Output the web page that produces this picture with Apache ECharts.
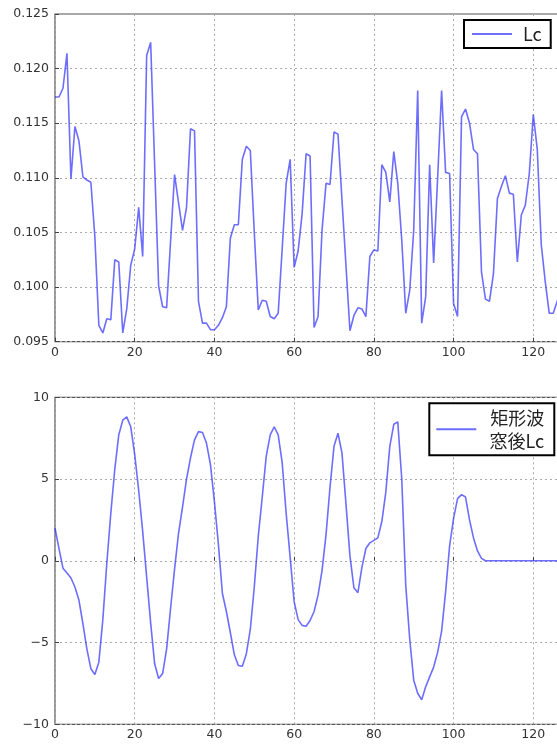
<!DOCTYPE html>
<html>
<head>
<meta charset="utf-8">
<script src="https://cdn.jsdelivr.net/npm/echarts@6/dist/echarts.min.js"></script>
<style>
html,body{margin:0;padding:0;background:#fff;}
#chart{width:557px;height:744px;}
</style>
</head>
<body>
<div id="chart"></div>
<script>
// Top panel: Lc
const lcValues = [
0.1174,0.1174,0.1182,0.1214,0.1099,0.1147,0.1134,0.1101,0.1098,0.1096,
0.1046,0.0965,0.0958,0.0971,0.0970,0.1025,0.1023,0.0958,0.0980,0.1020,
0.1035,0.1073,0.1028,0.1212,0.1224,0.1112,0.1001,0.0982,0.0981,0.1042,
0.1103,0.1077,0.1052,0.1073,0.1145,0.1143,0.0987,0.0967,0.0967,0.0961,
0.0961,0.0965,0.0972,0.0982,0.1045,0.1057,0.1057,0.1117,0.1129,0.1125,
0.1050,0.0979,0.0988,0.0987,0.0973,0.0971,0.0976,0.1035,0.1095,0.1117,
0.1018,0.1033,0.1067,0.1122,0.1120,0.0963,0.0973,0.1052,0.1095,0.1094,
0.1142,0.1140,0.1080,0.1020,0.0960,0.0974,0.0981,0.0980,0.0973,0.1028,
0.1034,0.1033,0.1112,0.1105,0.1078,0.1124,0.1095,0.1043,0.0976,0.0997,
0.1052,0.1180,0.0967,0.0991,0.1112,0.1022,0.1100,0.1180,0.1105,0.1104,
0.0985,0.0973,0.1156,0.1163,0.1150,0.1126,0.1122,0.1014,0.0989,0.0987,
0.1012,0.1081,0.1092,0.1102,0.1086,0.1085,0.1023,0.1066,0.1075,0.1104,
0.1158,0.1126,0.1039,0.1005,0.0976,0.0976,0.0987,0.1000
];
// Bottom panel: windowed Lc
const winValues = [
2.0,0.75,-0.45,-0.75,-1.05,-1.6,-2.4,-3.85,-5.4,-6.6,
-6.95,-6.2,-3.6,-0.15,2.9,5.6,7.7,8.6,8.8,8.2,
6.5,4.3,1.8,-1.0,-3.8,-6.3,-7.2,-6.9,-5.4,-2.9,
-0.5,1.7,3.3,5.0,6.3,7.4,7.9,7.85,7.2,5.9,
3.6,1.0,-2.0,-3.1,-4.4,-5.75,-6.4,-6.45,-5.7,-4.2,
-1.6,1.5,3.9,6.4,7.7,8.2,7.7,6.0,2.9,0.2,
-2.5,-3.6,-3.95,-4.0,-3.65,-3.1,-2.1,-0.6,1.6,4.5,
7.0,7.8,6.6,3.5,0.3,-1.65,-1.95,-0.4,0.75,1.1,
1.25,1.4,2.4,4.2,7.0,8.35,8.5,5.0,-1.5,-4.8,
-7.3,-8.1,-8.5,-7.7,-7.1,-6.5,-5.6,-4.3,-1.9,0.9,
2.6,3.8,4.05,3.9,2.5,1.4,0.6,0.15,0,0,
0,0,0,0,0,0,0,0,0,0,
0,0,0,0,0,0,0,0
];
const topName = 'Lc';
const bottomName = '矩形波\n窓後Lc';
const xTicks = [0,20,40,60,80,100,120,140];

const lineColor = 'rgba(40,40,255,0.68)';
const tickFont = {fontFamily:'DejaVu Sans', fontSize:12.5, color:'#333'};
const gridLine = {show:true, lineStyle:{color:'#aaa', type:[2,3], width:1}};

function xAxisCfg(gi, margin){
  return {type:'value', gridIndex:gi, min:0, max:140, interval:20,
    axisLine:{show:false}, axisTick:{show:true, inside:true, length:4, lineStyle:{color:'#444'}},
    axisLabel:Object.assign({margin:margin}, tickFont),
    splitLine:gridLine};
}

const chart = echarts.init(document.getElementById('chart'), null, {renderer:'canvas'});
chart.setOption({
  animation:false,
  backgroundColor:'#fff',
  grid:[
    {left:55, top:14, width:558, height:327.7, outerBoundsMode:'none', containLabel:false,
     show:true, borderColor:'#555', borderWidth:1.2, backgroundColor:'transparent'},
    {left:55, top:397.3, width:558, height:327, outerBoundsMode:'none', containLabel:false,
     show:true, borderColor:'#555', borderWidth:1.2, backgroundColor:'transparent'}
  ],
  xAxis:[xAxisCfg(0,5), xAxisCfg(1,4)],
  yAxis:[
    {type:'value', gridIndex:0, min:0.095, max:0.125, interval:0.005,
     axisLine:{show:false}, axisTick:{show:true, inside:true, length:4, lineStyle:{color:'#444'}},
     axisLabel:Object.assign({margin:6, formatter:v=>v.toFixed(3)}, tickFont),
     splitLine:gridLine},
    {type:'value', gridIndex:1, min:-10, max:10, interval:5,
     axisLine:{show:false}, axisTick:{show:true, inside:true, length:4, lineStyle:{color:'#444'}},
     axisLabel:Object.assign({margin:6, formatter:v=> v<0 ? '\u2212'+Math.abs(v) : String(v)}, tickFont),
     splitLine:gridLine}
  ],
  legend:[
    {data:[topName], left:464, top:20, orient:'vertical',
     padding:[4,9,4,8], itemWidth:40, itemHeight:2, icon:'rect',
     borderColor:'#000', borderWidth:2, backgroundColor:'#fff',
     itemStyle:{color:lineColor},
     textStyle:{fontFamily:'Noto Sans CJK JP', fontSize:18, lineHeight:20, color:'#222', padding:[0,0,0,6]}},
    {data:[bottomName], left:429.3, top:403.3, orient:'vertical',
     padding:[3,10,3,7], itemWidth:40, itemHeight:2, icon:'rect',
     borderColor:'#000', borderWidth:2, backgroundColor:'#fff',
     itemStyle:{color:lineColor},
     formatter: name => name.split('\n').map(s=>'{a|'+s+'}').join('\n'),
     textStyle:{fontFamily:'Noto Sans CJK JP', fontSize:18, lineHeight:23, color:'#222', padding:[0,0,0,5],
       rich:{a:{width:58, align:'right', fontFamily:'Noto Sans CJK JP', fontSize:18, lineHeight:23, color:'#222'}}}}
  ],
  series:[
    {name:topName, type:'line', xAxisIndex:0, yAxisIndex:0, symbol:'none', showSymbol:false,
     lineStyle:{color:lineColor, width:1.6}, itemStyle:{color:lineColor},
     data: lcValues.map((v,i)=>[i,v])},
    {name:bottomName, type:'line', xAxisIndex:1, yAxisIndex:1, symbol:'none', showSymbol:false,
     lineStyle:{color:lineColor, width:1.6}, itemStyle:{color:lineColor},
     data: winValues.map((v,i)=>[i,v])}
  ]
});
</script>
</body>
</html>
